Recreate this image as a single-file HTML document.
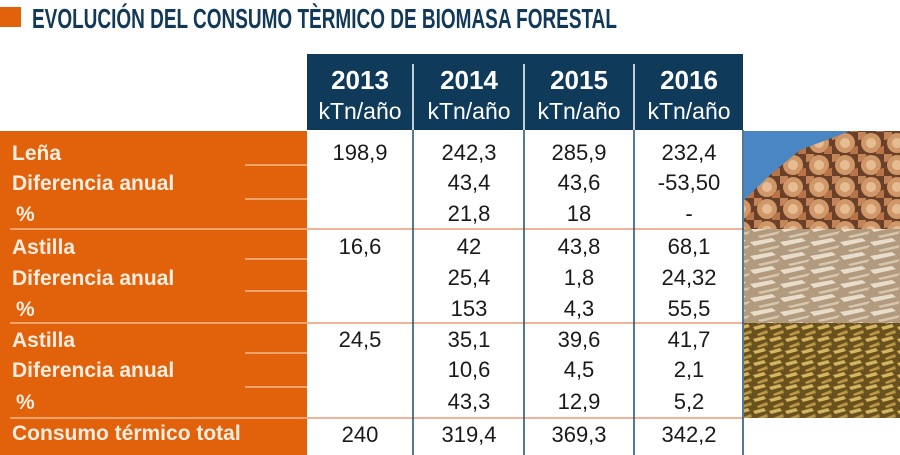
<!DOCTYPE html>
<html><head><meta charset="utf-8"><style>
html,body{margin:0;padding:0;background:#fff;width:900px;height:455px;overflow:hidden}
svg{display:block}
.lab{font-family:"Liberation Sans Narrow","Liberation Sans",sans-serif;font-weight:bold;font-size:21px;fill:#fbeee0}
.num{font-family:"Liberation Sans Narrow","Liberation Sans",sans-serif;font-size:22px;fill:#1a1a1a;text-anchor:middle}
.hy{font-family:"Liberation Sans Narrow","Liberation Sans",sans-serif;font-weight:bold;font-size:26px;fill:#fff;text-anchor:middle}
.hu{font-family:"Liberation Sans Narrow","Liberation Sans",sans-serif;font-size:23px;fill:#fff;text-anchor:middle}
</style></head><body>
<svg width="900" height="455" viewBox="0 0 900 455" xmlns="http://www.w3.org/2000/svg">
<defs>
<pattern id="logs" width="26" height="22" patternUnits="userSpaceOnUse">
<rect width="26" height="22" fill="#6a4028"/>
<circle cx="13" cy="11" r="10" fill="#d09868"/><circle cx="13" cy="11" r="5" fill="#e6bc92"/>
<circle cx="0" cy="0" r="8" fill="#c28458"/><circle cx="26" cy="22" r="8" fill="#b87448"/>
</pattern>
<pattern id="chips" width="30" height="14" patternUnits="userSpaceOnUse">
<rect width="30" height="14" fill="#b29a7e"/>
<path d="M0 4 L22 0 L26 3 L4 8Z" fill="#e8dccb"/><path d="M8 12 L30 7 L28 10 L10 14Z" fill="#d8c6ad"/>
</pattern>
<pattern id="pel" width="16" height="12" patternUnits="userSpaceOnUse">
<rect width="16" height="12" fill="#6a5220"/>
<path d="M1 3 L12 0 L14 3 L3 6Z" fill="#d4b45c"/><path d="M5 10 L15 6 L16 9 L6 12Z" fill="#b89644"/>
</pattern>
</defs>
<rect x="0" y="7" width="21" height="20" fill="#e2620c"/>
<text x="32" y="28" textLength="585" lengthAdjust="spacingAndGlyphs" style="font-family:'Liberation Sans Narrow','Liberation Sans',sans-serif;font-weight:bold;font-size:28px;fill:#123a58">EVOLUCIÓN DEL CONSUMO TÈRMICO DE BIOMASA FORESTAL</text>
<rect x="307" y="54" width="436" height="76" fill="#0f3a5a"/>
<g stroke="#fff" stroke-width="1.5"><line x1="413" y1="64" x2="413" y2="130"/><line x1="524" y1="64" x2="524" y2="130"/><line x1="634" y1="64" x2="634" y2="130"/></g>
<g class="hy"><text x="360" y="89">2013</text><text x="469" y="89">2014</text><text x="579" y="89">2015</text><text x="689" y="89">2016</text></g>
<g class="hu"><text x="360" y="119">kTn/año</text><text x="469" y="119">kTn/año</text><text x="579" y="119">kTn/año</text><text x="689" y="119">kTn/año</text></g>
<rect x="0" y="131" width="307" height="324" fill="#e2620c"/>
<g stroke="#f6c9a6" stroke-width="1.2">
<line x1="245" y1="165" x2="307" y2="165"/><line x1="245" y1="199" x2="307" y2="199"/>
<line x1="10" y1="229" x2="307" y2="229"/>
<line x1="245" y1="259" x2="307" y2="259"/><line x1="245" y1="291" x2="307" y2="291"/>
<line x1="10" y1="323" x2="307" y2="323"/>
<line x1="245" y1="353" x2="307" y2="353"/><line x1="245" y1="387" x2="307" y2="387"/>
<line x1="10" y1="418" x2="307" y2="418"/>
</g>
<g stroke="#e8895a" stroke-width="1.2"><line x1="307" y1="229" x2="900" y2="229"/><line x1="307" y1="323" x2="900" y2="323"/><line x1="307" y1="418" x2="743" y2="418"/></g>
<g stroke="#1d4d6d" stroke-width="1.5"><line x1="413" y1="130" x2="413" y2="455"/><line x1="524" y1="130" x2="524" y2="455"/><line x1="634" y1="130" x2="634" y2="455"/><line x1="743" y1="130" x2="743" y2="455"/></g>
<rect x="744" y="131" width="156" height="98" fill="url(#logs)"/>
<polygon points="744,131 850,131 800,150 770,175 744,200" fill="#4a86c4"/>
<rect x="744" y="229" width="156" height="94" fill="url(#chips)"/>
<rect x="744" y="323" width="156" height="95" fill="url(#pel)"/>
<g class="lab">
<text x="12" y="160">Leña</text><text x="12" y="190">Diferencia anual</text><text x="16" y="221">%</text>
<text x="12" y="254">Astilla</text><text x="12" y="285">Diferencia anual</text><text x="16" y="316">%</text>
<text x="12" y="347">Astilla</text><text x="12" y="377">Diferencia anual</text><text x="16" y="409">%</text>
<text x="12" y="440">Consumo térmico total</text>
</g>
<g class="num">
<text x="360" y="160">198,9</text><text x="469" y="160">242,3</text><text x="579" y="160">285,9</text><text x="689" y="160">232,4</text>
<text x="469" y="190">43,4</text><text x="579" y="190">43,6</text><text x="689" y="190">-53,50</text>
<text x="469" y="221">21,8</text><text x="579" y="221">18</text><text x="689" y="221">-</text>
<text x="360" y="254">16,6</text><text x="469" y="254">42</text><text x="579" y="254">43,8</text><text x="689" y="254">68,1</text>
<text x="469" y="285">25,4</text><text x="579" y="285">1,8</text><text x="689" y="285">24,32</text>
<text x="469" y="316">153</text><text x="579" y="316">4,3</text><text x="689" y="316">55,5</text>
<text x="360" y="347">24,5</text><text x="469" y="347">35,1</text><text x="579" y="347">39,6</text><text x="689" y="347">41,7</text>
<text x="469" y="377">10,6</text><text x="579" y="377">4,5</text><text x="689" y="377">2,1</text>
<text x="469" y="409">43,3</text><text x="579" y="409">12,9</text><text x="689" y="409">5,2</text>
<text x="360" y="442">240</text><text x="469" y="442">319,4</text><text x="579" y="442">369,3</text><text x="689" y="442">342,2</text>
</g>
</svg>
</body></html>
